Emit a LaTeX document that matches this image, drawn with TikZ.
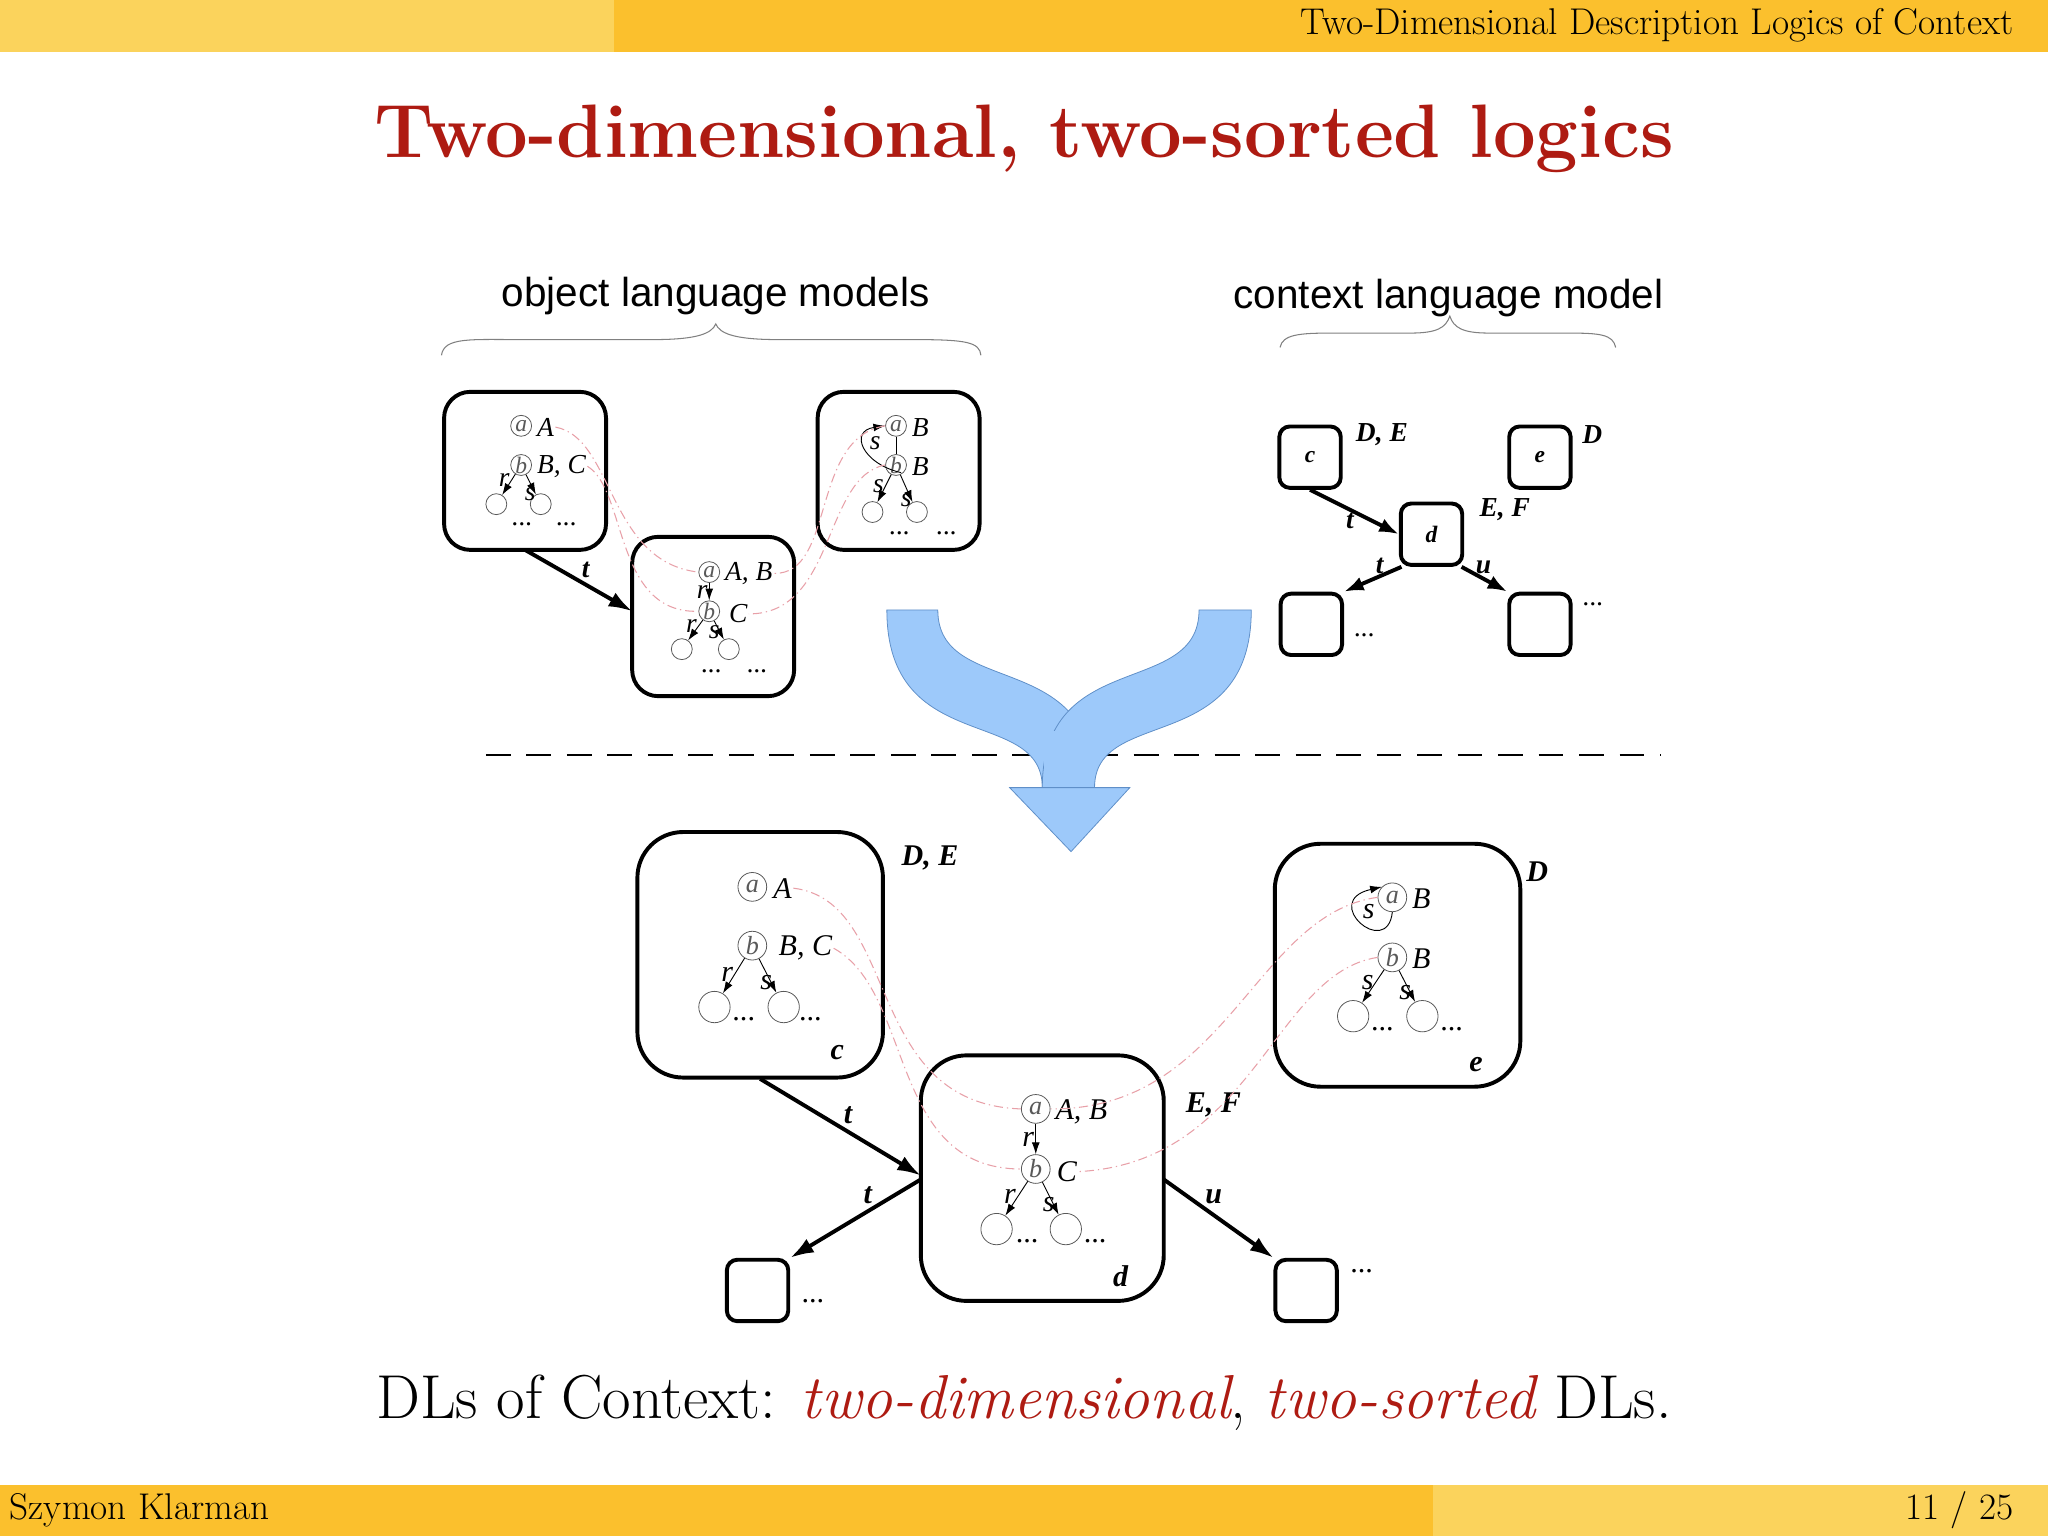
\documentclass[tikz,border=0pt]{standalone}
\usepackage{fontspec}
\usetikzlibrary{arrows.meta}
\newcommand\pal{\rmfamily}
\newfontfamily\tms{Liberation Serif}
\newfontfamily\arl{Liberation Sans}
\definecolor{ylA}{HTML}{FBD35C}
\definecolor{ylB}{HTML}{FBC02D}
\definecolor{ttl}{HTML}{AE1B12}
\definecolor{blu}{HTML}{9DC9FA}
\definecolor{bluD}{HTML}{5F8FC8}
\definecolor{rdd}{HTML}{E8A0A8}
\tikzset{
 world/.style={draw,line width=3pt,rounded corners=#1},
 world/.default=20pt,
 el/.style={draw,gray!70!black,line width=0.6pt,circle,minimum size=#1,inner sep=0pt,font=\tms\itshape\fontsize{18}{18}\selectfont},
 el/.default=16pt,
 lab/.style={font=\tms\itshape\fontsize{21}{21}\selectfont,inner sep=1pt},
 blab/.style={font=\tms\bfseries\itshape\fontsize{21}{21}\selectfont,inner sep=1pt},
 rel/.style={-{Latex[length=9pt,width=6pt]},line width=0.7pt},
 trel/.style={-{Latex[length=18pt,width=12pt]},line width=3pt},
 corr/.style={rdd,line width=0.8pt,dash pattern=on 7pt off 3pt on 1pt off 3pt},
}
\begin{document}
\begin{tikzpicture}[x=1pt,y=-1pt]
\useasboundingbox (0,0) rectangle (1568,1176);
\fill[white] (0,0) rectangle (1568,1176);
% header / footer
\fill[ylA] (0,0) rectangle (470,40);
\fill[ylB] (470,0) rectangle (1568,40);
\fill[ylB] (0,1137) rectangle (1097,1176);
\fill[ylA] (1097,1137) rectangle (1568,1176);
\node[anchor=east,font=\pal\fontsize{28.5}{28.5}\selectfont] (hdr) at (1545,19) {Two-Dimensional Description Logics of Context};
\node[anchor=west,font=\pal\fontsize{28.5}{28.5}\selectfont] (auth) at (4,1156) {Szymon Klarman};
\node[anchor=east,font=\pal\fontsize{28.5}{28.5}\selectfont] (pg) at (1545,1156) {11 / 25};
\node[font=\pal\bfseries\fontsize{58}{58}\selectfont,text=ttl] (title) at (784,106) {Two-dimensional, two-sorted logics};
\node[font=\pal\fontsize{47.5}{47.5}\selectfont] (concl) at (784,1074) {DLs of Context: \textcolor{ttl}{\itshape two-dimensional}, \textcolor{ttl}{\itshape two-sorted} DLs.};
% captions and braces
\node[font=\arl\fontsize{31}{31}\selectfont] (cap1) at (548,227) {object language models};
\node[font=\arl\fontsize{31}{31}\selectfont] (cap2) at (1109,228) {context language model};
\draw[gray,line width=0.8pt] (338,272) .. controls (340,258) and (360,260) .. (400,260) -- (500,260) .. controls (535,260) and (545,255) .. (548,248) .. controls (551,255) and (561,260) .. (596,260) -- (700,260) .. controls (740,260) and (750,262) .. (751,272);
\draw[gray,line width=0.8pt] (980,266) .. controls (982,256) and (995,255) .. (1020,255) -- (1080,255) .. controls (1100,255) and (1107,251) .. (1110,242) .. controls (1113,251) and (1120,255) .. (1140,255) -- (1200,255) .. controls (1225,255) and (1235,256) .. (1237,266);
% dashed separator
\draw[line width=1.6pt,dash pattern=on 19pt off 12pt] (372,578) -- (1272,578);
% blue arrow
\begin{scope}[fill=blu,draw=bluD,line width=0.6pt]
\filldraw (679,467) -- (718,467) .. controls (718,535) and (838,495) .. (838,603) -- (798,603) .. controls (798,540) and (679,580) .. (679,467) -- cycle;
\filldraw (958,467) -- (918,467) .. controls (918,535) and (798,495) .. (798,603) -- (838,603) .. controls (838,540) and (958,580) .. (958,467) -- cycle;
\fill (799,560) rectangle (837,604);
\filldraw (773,603) -- (865,603) -- (820,652) -- cycle;
\end{scope}
% ===== upper object models =====
\draw[world] (340,300) rectangle (464,421);
\draw[world] (484,411) rectangle (608,533);
\draw[world] (626,300) rectangle (750,421);
\coordinate (w1b) at (402,421); \coordinate (w2l) at (484,468);
% box1
\node[el] (u1a) at (399,326) {a}; \node[lab,anchor=west] (u1A) at (410,327) {A};
\node[el] (u1b) at (399,356) {b}; \node[lab,anchor=west] (u1BC) at (410,357) {B, C};
\node[el] (u1c) at (380,386) {}; \node[el] (u1d) at (414,386) {};
\draw[rel] (u1b) -- node[lab,left,pos=0.3] (u1r) {r} (u1c);
\draw[rel] (u1b) -- node[lab,pos=0.75,below left=-3pt] (u1s) {s} (u1d);
\node[lab] (u1dt) at (400,401) {...}; \node[lab] (u1dt2) at (434,401) {...};
% box2
\node[el] (u2a) at (543,438) {a}; \node[lab,anchor=west] (u2AB) at (554,439) {A, B};
\node[el] (u2b) at (543,468) {b}; \node[lab,anchor=west] (u2C) at (557,470) {C};
\node[el] (u2c) at (522,497) {}; \node[el] (u2d) at (558,497) {};
\draw[rel] (u2a) -- node[lab,left] (u2r) {r} (u2b);
\draw[rel] (u2b) -- node[lab,left,pos=0.3] (u2r2) {r} (u2c);
\draw[rel] (u2b) -- node[lab,pos=0.6,left=-1pt] (u2s) {s} (u2d);
\node[lab] (u2dt) at (545,514) {...}; \node[lab] (u2dt2) at (580,514) {...};
% box3
\node[el] (u3a) at (686,326) {a}; \node[lab,anchor=west] (u3B) at (697,327) {B};
\node[el] (u3b) at (686,356) {b}; \node[lab,anchor=west] (u3B2) at (697,357) {B};
\node[el] (u3c) at (668,392) {}; \node[el] (u3d) at (702,392) {};
\draw[line width=0.6pt] (u3a) -- (u3b);
\draw[rel] (u3b.south east) ++(-2,0) .. controls (660,355) and (650,330) .. (u3a.west);
\node[lab] (u3s) at (670,339) {s};
\draw[rel] (u3b) -- node[lab,left,pos=0.4] (u3sl) {s} (u3c);
\draw[rel] (u3b) -- node[lab,pos=0.75,below left=-3pt] (u3sr) {s} (u3d);
\node[lab] (u3dt) at (689,408) {...}; \node[lab] (u3dt2) at (725,408) {...};
% t arrow
\draw[trel] (w1b) -- node[blab,above right] (ut) {t} (w2l);
% correspondences upper
\draw[corr] (u1A.east) .. controls (470,335) and (465,430) .. (u2a.west);
\draw[corr] (u1BC.east) .. controls (480,375) and (470,470) .. (u2b.west);
\draw[corr] (u3a.west) .. controls (620,335) and (640,440) .. (u2AB.east);
\draw[corr] (u3b.west) .. controls (630,365) and (640,470) .. (u2C.east);
% ===== context model =====
\tikzset{cbox/.style={world=8pt,minimum size=47pt,inner sep=0pt,font=\tms\bfseries\itshape\fontsize{18}{18}\selectfont}}
\node[cbox] (kc) at (1003,350) {c};
\node[cbox] (ke) at (1179,350) {e};
\node[cbox] (kd) at (1096,409) {d};
\node[cbox] (kl) at (1004,478) {};
\node[cbox] (kr) at (1179,478) {};
\node[blab] (kDE) at (1058,333) {D, E};
\node[blab] (kD) at (1219,333) {D};
\node[blab] (kEF) at (1152,390) {E, F};
\node[lab] (kdl) at (1045,486) {...};
\node[lab] (kdr) at (1220,463) {...};
\draw[trel,-{Latex[length=15pt,width=11pt]}] (kc.south) -- node[blab,below left=-2pt] (kt1) {t} (kd.west);
\draw[trel,-{Latex[length=15pt,width=11pt]}] (kd.south west) ++(2,0) -- node[blab,above left=-2pt,pos=0.3] (kt2) {t} (kl.north east);
\draw[trel,-{Latex[length=15pt,width=11pt]}] (kd.south east) ++(-2,0) -- node[blab,above right=-2pt,pos=0.3] (ku) {u} (kr.north west);
% ===== lower combined model =====
\tikzset{lab/.append style={font=\tms\itshape\fontsize{23}{23}\selectfont},
 blab/.append style={font=\tms\bfseries\itshape\fontsize{23}{23}\selectfont}}
\draw[world=35pt] (488,637) rectangle (676,825);
\draw[world=35pt] (976,646) rectangle (1164,832);
\draw[world=35pt] (705,808) rectangle (891,996);
\coordinate (lcb) at (582,826); \coordinate (ldl) at (705,900); \coordinate (ldl2) at (705,903); \coordinate (ldr) at (891,903);
\node[world=8pt,minimum size=47pt,inner sep=0pt] (lbl) at (580,988) {};
\node[world=8pt,minimum size=47pt,inner sep=0pt] (lbr) at (1000,988) {};
\node[blab] (lDE) at (712,657) {D, E};
\node[blab] (lc) at (641,806) {c};
\node[blab] (lD) at (1177,667) {D};
\node[blab] (le) at (1130,815) {e};
\node[blab] (ld) at (858,977) {d};
\node[blab] (lEF) at (929,846) {E, F};
\node[lab] (ldt1) at (623,996) {...};
\node[lab] (ldt2) at (1043,973) {...};
\tikzset{el/.append style={font=\tms\itshape\fontsize{20}{20}\selectfont}}
% c
\node[el=22pt] (lca) at (576,679) {a}; \node[lab,anchor=west] (lcA) at (591,680) {A};
\node[el=22pt] (lcb2) at (576,724) {b}; \node[lab,anchor=west] (lcBC) at (595,726) {B, C};
\node[el=24pt] (lcc) at (547,771) {}; \node[el=24pt] (lcd) at (600,771) {};
\draw[rel] (lcb2) -- node[lab,left,pos=0.45] (lcr) {r} (lcc);
\draw[rel] (lcb2) -- node[lab,pos=0.7,left=-2pt] (lcs) {s} (lcd);
\node[lab] (lcdt) at (570,780) {...}; \node[lab] (lcdt2) at (621,780) {...};
% d
\node[el=22pt] (lda) at (793,849) {a}; \node[lab,anchor=west] (ldAB) at (807,851) {A, B};
\node[el=22pt] (ldb) at (793,895) {b}; \node[lab,anchor=west] (ldC) at (808,897) {C};
\node[el=24pt] (ldc) at (763,941) {}; \node[el=24pt] (ldd) at (816,941) {};
\draw[rel] (lda) -- node[lab,left] (ldr1) {r} (ldb);
\draw[rel] (ldb) -- node[lab,left,pos=0.45] (ldr2) {r} (ldc);
\draw[rel] (ldb) -- node[lab,pos=0.7,left=-2pt] (lds) {s} (ldd);
\node[lab] (lddt) at (787,950) {...}; \node[lab] (lddt2) at (839,950) {...};
% e
\node[el=22pt] (lea) at (1066,687) {a}; \node[lab,anchor=west] (leB) at (1080,688) {B};
\node[el=22pt] (leb) at (1066,733) {b}; \node[lab,anchor=west] (leB2) at (1080,734) {B};
\node[el=24pt] (lec) at (1036,778) {}; \node[el=24pt] (led) at (1089,778) {};
\draw[rel] (lea.south) .. controls (1062,735) and (1010,690) .. (lea.north west);
\node[lab] (les) at (1048,698) {s};
\draw[rel] (leb) -- node[lab,left,pos=0.4] (les1) {s} (lec);
\draw[rel] (leb) -- node[lab,pos=0.7,left=-2pt] (les2) {s} (led);
\node[lab] (ledt) at (1059,788) {...}; \node[lab] (ledt2) at (1112,788) {...};
% arrows
\draw[trel] (lcb) -- node[blab,above right] (lt1) {t} (ldl);
\draw[trel] (ldl2) -- node[blab,above left,pos=0.35] (lt2) {t} (lbl.north east);
\draw[trel] (ldr) -- node[blab,above right,pos=0.35] (lu) {u} (lbr.north west);
% correspondences lower
\draw[corr] (lcA.east) .. controls (690,690) and (660,845) .. (lda.west);
\draw[corr] (lcBC.east) .. controls (700,760) and (680,895) .. (ldb.west);
\draw[corr] (lea.west) .. controls (960,700) and (940,850) .. (lda.east);
\draw[corr] (leb.west) .. controls (975,745) and (960,890) .. (ldC.east);
\end{tikzpicture}
\end{document}
